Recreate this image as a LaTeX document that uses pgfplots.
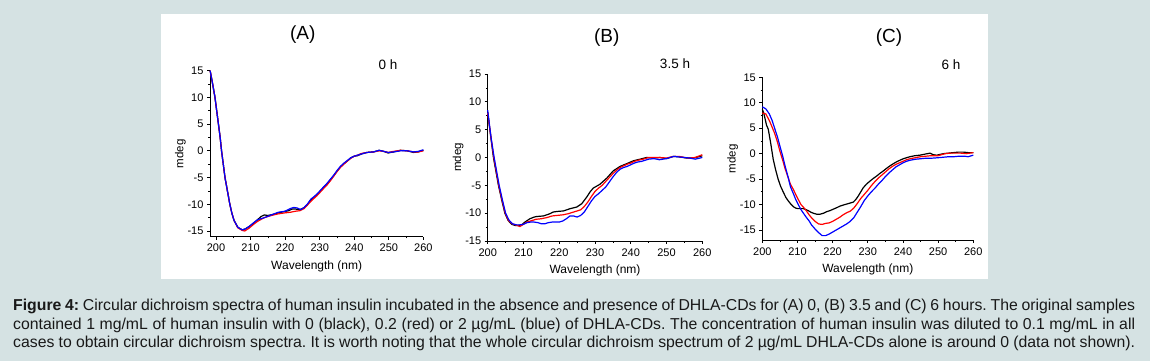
\documentclass[border=0pt]{standalone}
\usepackage{fontspec}
\setmainfont{Liberation Sans}
\usepackage{pgfplots}
\pgfplotsset{compat=1.18}
\definecolor{bgc}{RGB}{213,226,227}
\definecolor{captxt}{RGB}{25,25,25}
\pgfplotsset{
  cdstyle/.style={
    scale only axis,
    axis x line=bottom, axis y line=left,
    axis line style={-, line width=0.7pt},
    tick align=outside,
    major tick length=3pt, minor tick length=1.8pt,
    every tick/.style={black, line width=0.7pt},
    xmax=260, ymax=15,
    xtick={200,210,...,260}, ytick={-15,-10,...,15},
    minor x tick num=1, minor y tick num=1,
    /pgf/number format/assume math mode=true,
    tick label style={font=\fontsize{11}{11}\selectfont},
    xticklabel style={yshift=-1pt},
    xlabel style={font=\fontsize{12}{12}\selectfont, yshift=-2pt},
    ylabel style={font=\fontsize{11.5}{12}\selectfont, yshift=-5pt},
    xlabel={Wavelength (nm)}, ylabel={mdeg},
    every axis plot/.append style={line width=1.2pt, no marks},
    clip=false,
  }
}
\begin{document}
\begin{tikzpicture}[x=1pt,y=1pt]
\fill[bgc] (0,0) rectangle (1150,361);
\fill[white] (161,82) rectangle (988,347);
% ---------------- (A)
\begin{axis}[cdstyle, at={(210pt,124.3pt)}, anchor=south west,
  width=213.4pt, height=166pt, xmin=198.26, ymin=-16.07]
\addplot[black] coordinates {(198.3,15)(199,12.6)(199.7,10)(200.2,7.5)(200.7,5)(201.2,2.5)(201.6,0)(202.1,-2.5)(202.6,-5)(203.3,-7.5)(204,-10)(204.6,-11.7)(205.2,-13)(206.3,-14.3)(207.6,-14.8)(208.5,-14.6)(209.5,-14.2)(210.8,-13.6)(212,-12.9)(213,-12.3)(214,-12.0)(215,-12.1)(216.5,-11.9)(218,-11.6)(219.5,-11.4)(221,-11.2)(222,-10.9)(223,-10.9)(224.3,-11.0)(225.3,-10.7)(226.3,-10.2)(227.3,-9.3)(228.2,-8.8)(229.2,-8.2)(230.2,-7.5)(231.2,-6.8)(232.1,-6.2)(233.1,-5.4)(234,-4.7)(235,-3.8)(236,-3.0)(237,-2.4)(238,-1.9)(239,-1.3)(240,-1.0)(241,-0.9)(242,-0.6)(243.7,-0.3)(245.6,-0.2)(247.2,0.1)(248.5,-0.1)(249.8,-0.4)(251.4,-0.2)(253.4,0.1)(255.3,0.0)(257.2,-0.3)(258.5,-0.2)(260,0.1)};
\addplot[red] coordinates {(198.3,15)(199,12.6)(199.7,10)(200.2,7.5)(200.7,5)(201.2,2.5)(201.6,0)(202.1,-2.5)(202.6,-5)(203.3,-7.5)(204,-10)(204.6,-11.7)(205.2,-13)(206.3,-14.4)(207.6,-14.9)(208.3,-15.0)(209.5,-14.5)(210.8,-13.8)(212,-13.2)(214,-12.5)(216,-12.1)(218,-11.8)(220,-11.6)(221.5,-11.5)(223,-11.3)(224.3,-11.2)(225.5,-10.8)(226.5,-10.1)(228,-9.1)(229.2,-8.4)(230.2,-7.7)(231.2,-7.0)(232.1,-6.4)(233.1,-5.6)(234,-4.8)(235,-3.9)(236,-3.1)(237,-2.5)(238,-1.9)(239,-1.4)(240,-1.0)(241,-0.8)(242,-0.5)(243.7,-0.3)(245.6,-0.2)(247.2,0.0)(248.5,-0.1)(249.8,-0.3)(251.4,-0.1)(253.4,0.1)(255.3,0.0)(257.2,-0.2)(258.5,-0.2)(260,0.0)};
\addplot[blue] coordinates {(198.3,15)(199,12.6)(199.7,10)(200.2,7.5)(200.7,5)(201.2,2.5)(201.6,0)(202.1,-2.5)(202.6,-5)(203.3,-7.5)(204,-10)(204.6,-11.7)(205.2,-13)(206.3,-14.3)(207.6,-14.8)(208.5,-14.6)(209.5,-14.2)(210.8,-13.5)(212,-12.9)(214,-12.5)(216,-12.0)(218,-11.5)(220,-11.3)(221.5,-10.8)(222.5,-10.6)(223.5,-10.7)(224.5,-11.0)(225.5,-10.6)(226.5,-9.9)(227.5,-9.0)(228.5,-8.5)(229.5,-7.9)(230.2,-7.4)(231.2,-6.7)(232.1,-6.1)(233.1,-5.3)(234,-4.6)(235,-3.7)(236,-2.9)(237,-2.3)(238,-1.8)(239,-1.3)(240,-1.0)(241,-0.8)(242,-0.6)(243.7,-0.3)(245.6,-0.2)(247.2,0.1)(248.5,-0.1)(249.8,-0.3)(251.4,-0.2)(253.4,0.0)(255.3,0.0)(257.2,-0.2)(258.5,-0.1)(260,0.2)};
\end{axis}
% ---------------- (B)
\begin{axis}[cdstyle, at={(487.7pt,120pt)}, anchor=south west,
  width=214.6pt, height=167pt, xmin=200, ymin=-15]
\addplot[black] coordinates {(200,8.2)(200.5,5.5)(201,3.0)(201.6,0)(202.3,-2.5)(203,-5)(203.9,-7.6)(204.8,-10)(205.7,-11.3)(206.7,-12.0)(207.6,-12.2)(208.5,-12.2)(209.5,-12.1)(210.4,-11.6)(211.8,-11.0)(213,-10.7)(213.7,-10.6)(215.6,-10.5)(217.4,-10.1)(218.3,-9.8)(219.3,-9.7)(221.2,-9.6)(223,-9.2)(224.9,-8.9)(226.3,-8.3)(227.7,-7.1)(228.6,-6.2)(229.5,-5.5)(231.4,-4.8)(233.3,-3.7)(235.1,-2.4)(237,-1.6)(238.9,-1.1)(240.7,-0.6)(242.6,-0.3)(244.4,0.0)(246.3,-0.1)(248.2,0.0)(250,-0.2)(251.9,0.2)(253.7,0.1)(255.6,-0.1)(257.5,-0.1)(260,0.3)};
\addplot[red] coordinates {(200,8.0)(200.5,5.6)(201,3.2)(201.7,0)(202.4,-2.5)(203.1,-5)(204,-7.6)(204.9,-10)(205.8,-11.3)(206.8,-11.9)(207.8,-12.1)(209,-12.4)(210,-12.0)(211,-11.6)(212,-11.4)(213.5,-11.1)(215,-11.0)(216.5,-10.8)(218,-10.5)(219.5,-10.4)(221,-10.3)(222.5,-10.1)(224,-9.8)(225,-9.6)(226,-9.4)(227,-8.8)(228,-8.0)(229,-7.0)(230,-6.1)(231,-5.5)(232,-5.0)(233,-4.3)(234,-3.6)(235,-2.9)(236,-2.3)(237,-1.8)(238,-1.5)(239,-1.2)(240,-1.0)(241,-0.7)(242,-0.5)(243.5,-0.3)(245,0.0)(246.5,0.0)(248,0.0)(250,-0.1)(252,0.2)(253.5,0.2)(255,0.0)(256.5,-0.1)(258,0.0)(260,0.5)};
\addplot[blue] coordinates {(200,8.5)(200.5,5.8)(201,3.3)(201.8,0)(202.5,-2.5)(203.2,-5)(204.1,-7.6)(205,-10)(205.9,-11.2)(206.9,-11.9)(208,-12.1)(209,-12.1)(210,-12.0)(211,-11.7)(212,-11.6)(213,-11.6)(214,-11.7)(215,-11.9)(216,-11.9)(217,-11.7)(218,-11.6)(219,-11.6)(220,-11.6)(221,-11.4)(222,-11.0)(223,-10.5)(224,-10.5)(225,-10.7)(226,-10.4)(227,-9.8)(228,-8.8)(229,-7.8)(230,-7.0)(231,-6.5)(232,-5.9)(233,-5.3)(234,-4.4)(235,-3.5)(236,-2.7)(237,-2.1)(238,-1.8)(239,-1.6)(240,-1.3)(241,-1.0)(242,-0.8)(243,-0.7)(244,-0.5)(245,-0.3)(246.5,-0.2)(248,-0.4)(250,-0.2)(252,0.2)(253.5,0.1)(255,0.0)(256.5,-0.1)(258,-0.3)(260,0.0)};
\end{axis}
% ---------------- (C)
\begin{axis}[cdstyle, at={(762.3pt,121pt)}, anchor=south west,
  width=211pt, height=162.7pt, xmin=200, ymin=-16.96]
\addplot[black] coordinates {(200,8.7)(200.4,8.0)(200.8,6.8)(201.2,5.6)(201.7,4.8)(202.4,2.0)(203.1,-1.1)(203.8,-3.2)(204.5,-5.0)(205.2,-6.4)(206,-7.6)(206.7,-8.6)(207.4,-9.3)(208.1,-9.9)(208.8,-10.4)(209.5,-10.7)(210.2,-10.8)(211,-10.8)(211.7,-10.8)(212.4,-11.0)(213.1,-11.2)(213.8,-11.5)(214.5,-11.7)(215.5,-11.9)(216.4,-11.9)(217.4,-11.7)(218.3,-11.4)(219.2,-11.2)(220.2,-10.9)(221.2,-10.6)(222.1,-10.3)(223,-10.1)(224,-9.9)(225,-9.7)(225.9,-9.5)(226.6,-9.0)(227.3,-8.3)(228,-7.5)(228.7,-6.7)(229.6,-6.0)(230.6,-5.4)(231.5,-4.9)(232.5,-4.4)(233.4,-3.9)(234.4,-3.4)(235.3,-2.9)(236.3,-2.4)(237.2,-2.0)(238.2,-1.6)(239.1,-1.3)(240.1,-1.0)(241,-0.8)(242,-0.6)(243.4,-0.4)(244.8,-0.3)(246.2,-0.1)(247.7,0.1)(248.6,-0.2)(249.6,-0.3)(251.5,0.0)(252.9,0.1)(254.3,0.2)(255.7,0.3)(257.2,0.3)(258.6,0.2)(260,0.2)};
\addplot[red] coordinates {(200,8.0)(201,7.8)(202,6.5)(202.8,5.2)(203.5,4.0)(204.3,2.3)(205,0.5)(205.8,-1.3)(206.5,-3.0)(207.3,-4.6)(208,-6.0)(208.8,-7.0)(209.5,-8.0)(210.3,-9.1)(211,-10.0)(211.8,-10.6)(212.5,-11.2)(213.3,-12.0)(214,-12.6)(215,-13.3)(216,-13.8)(217,-13.9)(218,-13.7)(219,-13.6)(220,-13.3)(221,-12.9)(222,-12.5)(223,-12.0)(224,-11.6)(225,-11.3)(226,-10.7)(227,-9.8)(228,-8.8)(229,-8.0)(230,-7.2)(231,-6.3)(232,-5.5)(233,-4.8)(234,-4.2)(235,-3.6)(236,-3.0)(237,-2.5)(238,-2.1)(239,-1.8)(240,-1.5)(241,-1.2)(242,-1.0)(243.5,-0.8)(245,-0.6)(246.5,-0.5)(248,-0.4)(250,-0.4)(251,-0.2)(252,0.0)(253.5,0.1)(255,0.1)(256.5,0.1)(258,0.0)(260,0.2)};
\addplot[blue] coordinates {(200,9.2)(201,8.8)(202,7.8)(202.8,6.5)(203.5,5.0)(204.3,3.3)(205,1.5)(205.8,-0.5)(206.5,-2.5)(207.3,-4.5)(208,-6.5)(208.8,-7.8)(209.5,-9.0)(210.3,-10.1)(211,-11.0)(211.8,-11.8)(212.5,-12.5)(213.3,-13.2)(214,-14.0)(215,-14.8)(216,-15.5)(217,-16.1)(218,-16.1)(219,-15.8)(220,-15.4)(221,-15.0)(222,-14.6)(223,-14.2)(224,-13.8)(225,-13.3)(226,-12.6)(227,-11.5)(228,-10.4)(229,-9.2)(230,-8.3)(231,-7.5)(232,-6.8)(233,-6.0)(234,-5.3)(235,-4.5)(236,-3.8)(237,-3.2)(238,-2.6)(239,-2.2)(240,-1.8)(241,-1.5)(242,-1.3)(243.5,-1.1)(245,-1.0)(246.5,-0.9)(248,-0.9)(250,-0.8)(251.5,-0.7)(253,-0.6)(254.5,-0.6)(256,-0.5)(257.5,-0.5)(258.5,-0.6)(260,-0.3)};
\end{axis}
% titles and time labels
\node[font=\fontsize{19}{19}\selectfont] at (302.7,326) {(A)};
\node[font=\fontsize{19}{19}\selectfont] at (606.7,323) {(B)};
\node[font=\fontsize{19}{19}\selectfont] at (889,323) {(C)};
\node[font=\fontsize{13.5}{13.5}\selectfont] at (388,296) {0 h};
\node[font=\fontsize{13.5}{13.5}\selectfont] at (675,297) {3.5 h};
\node[font=\fontsize{13.5}{13.5}\selectfont] at (951,296) {6 h};
% caption
\frenchspacing
\begin{scope}[every node/.style={anchor=base west, inner sep=0pt, text=captxt, font=\fontsize{15.8}{18}\selectfont}]
\node at (13,50) {\makebox[1122pt][s]{\textbf{Figure 4:} Circular dichroism spectra of human insulin incubated in the absence and presence of DHLA-CDs for (A) 0, (B) 3.5 and (C) 6 hours. The original samples}};
\node at (13,31.7) {\makebox[1122pt][s]{contained 1 mg/mL of human insulin with 0 (black), 0.2 (red) or 2 µg/mL (blue) of DHLA-CDs. The concentration of human insulin was diluted to 0.1 mg/mL in all}};
\node at (13,13.7) {\makebox[1122pt][s]{cases to obtain circular dichroism spectra. It is worth noting that the whole circular dichroism spectrum of 2 µg/mL DHLA-CDs alone is around 0 (data not shown).}};
\end{scope}
\end{tikzpicture}
\end{document}
